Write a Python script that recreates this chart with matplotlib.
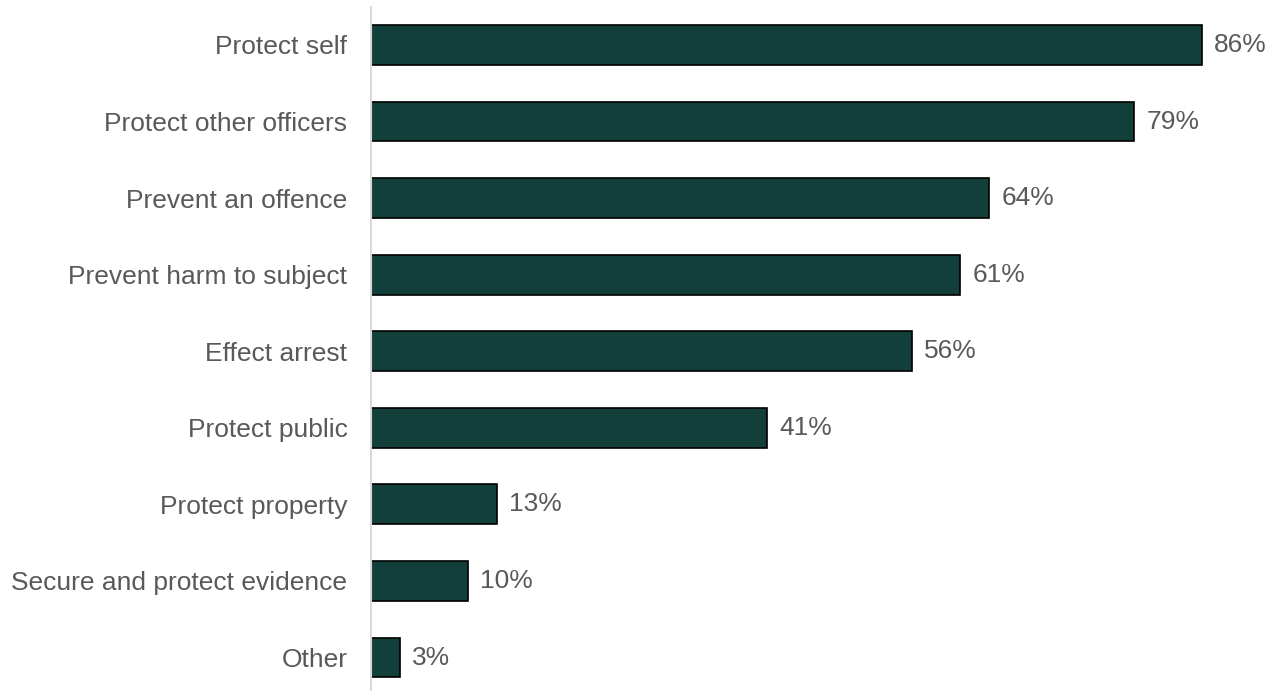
import matplotlib
matplotlib.use("Agg")
import matplotlib.pyplot as plt
import numpy as np

plt.rcParams['font.family'] = ['Liberation Sans', 'DejaVu Sans']

reasons = ["Protect self", "Protect other officers", "Prevent an offence",
           "Prevent harm to subject", "Effect arrest", "Protect public",
           "Protect property", "Secure and protect evidence", "Other"]
shares = [86, 79, 64, 61, 56, 41, 13, 10, 3]

bar_color = "#123f3a"
text_color = "#595959"

fig = plt.figure(figsize=(12.78, 6.91), dpi=100)
ax = fig.add_axes([371 / 1278, 0.0, 907 / 1278, 1 - 7 / 691])

y = np.arange(len(reasons))
ax.barh(y, shares, height=0.52, color=bar_color, edgecolor="black", linewidth=1.2)

for yi, v in zip(y, shares):
    ax.text(v + 1.25, yi, f"{v}%", va="center", ha="left",
            fontsize=19, color=text_color)

ax.set_yticks(y)
ax.set_yticklabels(reasons, fontsize=19, color=text_color)
ax.tick_params(axis="y", length=0, pad=17)
ax.set_xticks([])
ax.set_xlim(0, 86 * 907 / 831)
ax.set_ylim(len(reasons) - 1 + 0.437, -0.496)

for side in ["top", "right", "bottom"]:
    ax.spines[side].set_visible(False)
ax.spines["left"].set_color("#d9d9d9")
ax.spines["left"].set_linewidth(1.5)

fig.savefig("out.png", dpi=100)
